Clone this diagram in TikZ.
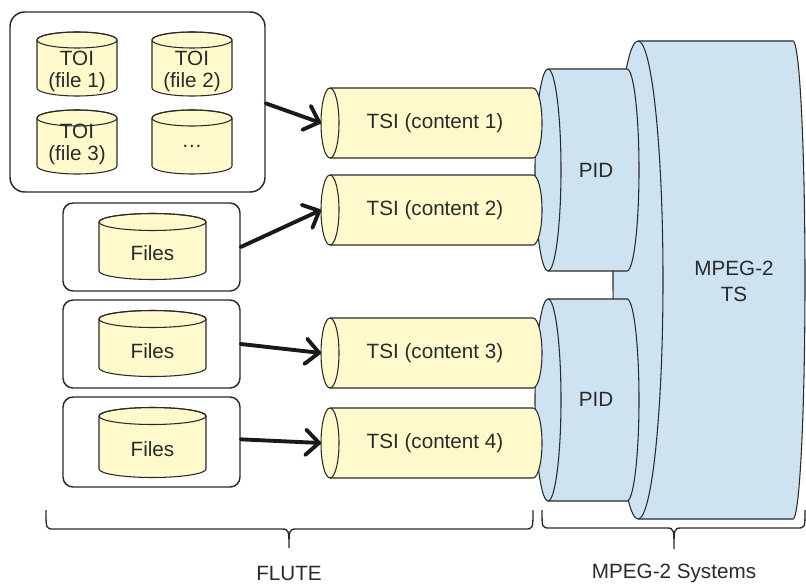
\documentclass[tikz,border=0pt]{standalone}
\usepackage{fontspec}
\setmainfont{Liberation Sans}
\usetikzlibrary{arrows.meta}
\definecolor{cylyellow}{HTML}{FFF9CC}
\definecolor{cylblue}{HTML}{CDE3F1}
\definecolor{inkgray}{HTML}{2A2A2A}
\newcommand\myvcyl[6]{% cx, rx, ytop, ybot, ry, fill
  \filldraw[cylline, fill=#6] ({#1-#2},#3) -- ({#1-#2},#4)
    arc[start angle=180,end angle=0,x radius=#2,y radius=#5]
    -- ({#1+#2},#3)
    arc[start angle=0,end angle=-180,x radius=#2,y radius=#5] -- cycle;
  \draw[cylline] (#1,#3) ellipse[x radius=#2,y radius=#5];
}
\newcommand\myhcyl[7]{% xl, xr, cy, ry, rxl, rxr, fill
  \filldraw[cylline, fill=#7] (#1,{#3-#4}) -- (#2,{#3-#4})
    arc[start angle=-90,end angle=90,x radius=#6,y radius=#4]
    -- (#1,{#3+#4})
    arc[start angle=90,end angle=270,x radius=#5,y radius=#4] -- cycle;
  \draw[cylline] (#1,{#3-#4}) arc[start angle=-90,end angle=90,x radius=#5,y radius=#4];
}
\begin{document}
\begin{tikzpicture}[x=0.75pt,y=-0.75pt,
  lab/.style={font=\fontsize{15.5}{16.5}\selectfont, text=inkgray, align=center, inner sep=0pt},
  cylline/.style={draw=inkgray, line width=0.8pt},
  boxstyle/.style={draw=inkgray, line width=1.1pt, rounded corners=7.5pt, inner sep=0pt, fill=white},
  flow/.style={draw=black!90, line width=2.9pt, line cap=round, line join=round,
    -{Straight Barb[length=10pt,width=19pt,line cap=round,line join=round]}},
  bracestyle/.style={draw=inkgray, line width=1pt}
]
\useasboundingbox (0,0) rectangle (806,585);

% MPEG-2 TS
\myhcyl{638}{793}{280}{239}{25}{12}{cylblue}
% PIDs
\myhcyl{548}{627}{170}{101}{13}{12}{cylblue}
\myhcyl{548}{627}{400}{101}{13}{12}{cylblue}
% TSI cylinders
\myhcyl{330}{533}{123}{35}{9}{9}{cylyellow}
\myhcyl{330}{533}{210}{35}{9}{9}{cylyellow}
\myhcyl{330}{533}{353}{35}{9}{9}{cylyellow}
\myhcyl{330}{533}{443}{35}{9}{9}{cylyellow}

\coordinate (tsi1in) at (321,123);
\coordinate (tsi2in) at (321,210);
\coordinate (tsi3in) at (321,353);
\coordinate (tsi4in) at (321,443);

\node[lab] (tsi1) at (435,123) {TSI (content 1)};
\node[lab] (tsi2) at (435,210) {TSI (content 2)};
\node[lab] (tsi3) at (435,353) {TSI (content 3)};
\node[lab] (tsi4) at (435,443) {TSI (content 4)};

\node[lab] (pid1) at (596,170) {PID};
\node[lab] (pid2) at (596,399) {PID};
\node[lab, font=\fontsize{15.5}{19.5}\selectfont] (ts) at (734,281) {MPEG-2\\TS};

% source boxes
\node[boxstyle, rounded corners=11pt, minimum width=0.75*255pt, minimum height=0.75*180pt] (box1) at (137.5,102) {};
\node[boxstyle, minimum width=0.75*177pt, minimum height=0.75*88pt] (box2) at (151.5,247) {};
\node[boxstyle, minimum width=0.75*177pt, minimum height=0.75*88pt] (box3) at (151.5,344) {};
\node[boxstyle, minimum width=0.75*177pt, minimum height=0.75*90pt] (box4) at (151.5,442) {};

% TOI cylinders
\myvcyl{77}{40}{40}{88}{8}{cylyellow}
\myvcyl{192}{40}{40}{88}{8}{cylyellow}
\myvcyl{77}{40}{118}{166}{8}{cylyellow}
\myvcyl{192}{40}{118}{166}{8}{cylyellow}
\node[lab] (toi1) at (77,71) {TOI\\(file 1)};
\node[lab] (toi2) at (192,71) {TOI\\(file 2)};
\node[lab] (toi3) at (77,144) {TOI\\(file 3)};
\node[lab] (toi4) at (192,146) {…};

% Files cylinders
\myvcyl{152.5}{53.5}{222}{271}{8.5}{cylyellow}
\myvcyl{152.5}{53.5}{319}{368}{8.5}{cylyellow}
\myvcyl{152.5}{53.5}{416}{469}{8.5}{cylyellow}
\node[lab] (files2) at (152.5,253) {Files};
\node[lab] (files3) at (152.5,351) {Files};
\node[lab] (files4) at (152.5,449) {Files};

% arrows
\draw[flow] ([yshift=-1pt]box1.east) -- (tsi1in);
\draw[flow] (box2.east) -- (tsi2in);
\draw[flow] (box3.east) -- (tsi3in);
\draw[flow] ([yshift=2pt]box4.east) -- (tsi4in);

% braces
\draw[bracestyle] (46,510) .. controls (46,529) and (46,529) .. (54,529) -- (282,529)
  .. controls (289,529) and (289,531) .. (289,548)
  .. controls (289,531) and (289,529) .. (296,529) -- (525,529)
  .. controls (533,529) and (533,529) .. (533,510);
\draw[bracestyle] (542,510) .. controls (542,528) and (542,528) .. (550,528) -- (667,528)
  .. controls (674,528) and (674,530) .. (674,549)
  .. controls (674,530) and (674,528) .. (681,528) -- (797,528)
  .. controls (805,528) and (805,528) .. (805,510);
\node[lab] (flute) at (289,573) {FLUTE};
\node[lab] (mpegsys) at (674,573) {MPEG-2 Systems};
\end{tikzpicture}
\end{document}
